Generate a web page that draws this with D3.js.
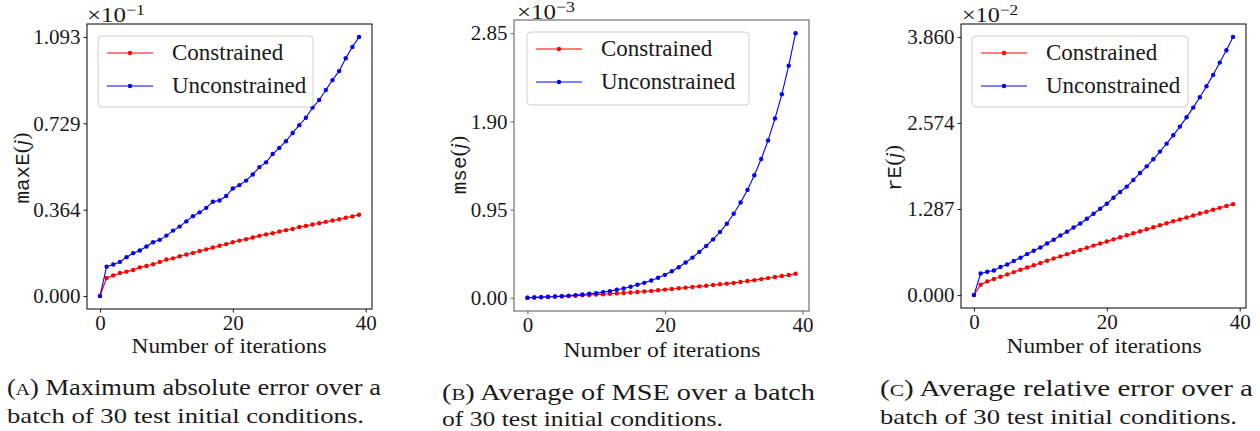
<!DOCTYPE html>
<html><head><meta charset="utf-8">
<script src="https://cdn.jsdelivr.net/npm/d3@7"></script>
<style>
body{margin:0;background:#fff}
svg{display:block}
</style>
</head><body>
<svg id="chart" width="1260" height="431"></svg>
<script>
// ---------- DATA ----------
const iterations = [0,1,2,3,4,5,6,7,8,9,10,11,12,13,14,15,16,17,18,19,20,21,22,23,24,25,26,27,28,29,30,31,32,33,34,35,36,37,38,39];
const seriesNames = ["Constrained", "Unconstrained"];

// Panel A: maxE(j), units of 1e-1
const maxEConstrained = [0,0.076,0.087,0.097,0.103,0.110,0.121,0.127,0.134,0.144,0.154,0.159,0.168,0.175,0.182,0.190,0.197,0.205,0.212,0.219,0.227,0.234,0.240,0.247,0.254,0.260,0.265,0.272,0.278,0.283,0.291,0.296,0.302,0.307,0.313,0.319,0.324,0.330,0.336,0.343];
const maxEUnconstrained = [0,0.124,0.133,0.144,0.164,0.181,0.192,0.209,0.227,0.237,0.255,0.276,0.293,0.315,0.337,0.353,0.372,0.398,0.403,0.422,0.454,0.468,0.487,0.513,0.544,0.564,0.599,0.625,0.653,0.688,0.721,0.752,0.795,0.827,0.869,0.911,0.949,1.003,1.051,1.093];
const maxETicks = [0, 0.3643, 0.7287, 1.093];
const maxETickLabels = ["0.000","0.364","0.729","1.093"];

// Panel B: mse(j), units of 1e-3
const mseConstrained = [0,0.003,0.006,0.009,0.012,0.015,0.018,0.022,0.026,0.030,0.034,0.038,0.043,0.047,0.052,0.057,0.062,0.068,0.074,0.081,0.088,0.095,0.102,0.109,0.116,0.123,0.130,0.138,0.145,0.152,0.160,0.170,0.180,0.190,0.201,0.212,0.223,0.234,0.246,0.258];
const mseUnconstrained = [0,0.004,0.007,0.011,0.014,0.018,0.021,0.029,0.036,0.043,0.050,0.061,0.072,0.086,0.100,0.118,0.140,0.161,0.186,0.215,0.247,0.286,0.329,0.380,0.433,0.494,0.558,0.629,0.708,0.798,0.905,1.026,1.162,1.320,1.495,1.695,1.931,2.192,2.500,2.850];
const mseTicks = [0, 0.95, 1.90, 2.85];
const mseTickLabels = ["0.00","0.95","1.90","2.85"];

// Panel C: rE(j), units of 1e-2
const rEConstrained = [0,0.154,0.205,0.240,0.274,0.309,0.344,0.378,0.412,0.446,0.480,0.513,0.546,0.579,0.612,0.644,0.676,0.708,0.740,0.771,0.802,0.833,0.864,0.895,0.925,0.955,0.985,1.015,1.045,1.074,1.103,1.132,1.161,1.190,1.219,1.247,1.276,1.304,1.332,1.360];
const rEUnconstrained = [0,0.323,0.349,0.368,0.419,0.458,0.509,0.558,0.613,0.663,0.712,0.772,0.827,0.892,0.947,1.011,1.071,1.141,1.216,1.291,1.366,1.456,1.541,1.621,1.721,1.825,1.925,2.030,2.145,2.264,2.389,2.519,2.658,2.803,2.958,3.122,3.292,3.476,3.661,3.860];
const rETicks = [0, 1.287, 2.574, 3.860];
const rETickLabels = ["0.000","1.287","2.574","3.860"];

const xTicks = [0, 20, 40];
const xTickLabels = ["0","20","40"];
const xLabel = "Number of iterations";

const captions = [
  ["A", ") Maximum absolute error over a", "batch of 30 test initial conditions."],
  ["B", ") Average of MSE over a batch", "of 30 test initial conditions."],
  ["C", ") Average relative error over a", "batch of 30 test initial conditions."]
];

// ---------- LAYOUT / STYLE ----------
const SERIF = '"Liberation Serif","Times New Roman",serif';
const MONO = '"Liberation Mono","Courier New",monospace';
const INK = "#1a1a1a";
const colors = ["#ff0000", "#0000ff"];
const panels = [
  {name:"maxE", exp:"−1", ticks:maxETicks, labels:maxETickLabels, data:[maxEConstrained, maxEUnconstrained],
   box:{l:87,r:372,t:24,b:309}, spine:"#000", ylab:{x:23,y:168}, legend:{x:98,y:36,w:215,h:71},
   xlab:{x:229,y:353,w:195}, cap:{x:7,y1:395,y2:423,w1:374,w2:357}, expPos:{x:87,y:22,w:58}},
  {name:"mse", exp:"−3", ticks:mseTicks, labels:mseTickLabels, data:[mseConstrained, mseUnconstrained],
   box:{l:514,r:809,t:20,b:311}, spine:"#555", ylab:{x:460,y:165}, legend:{x:527,y:32,w:222,h:73},
   xlab:{x:662,y:357,w:197}, cap:{x:442,y1:400,y2:426,w1:373,w2:281}, expPos:{x:517,y:19,w:58}},
  {name:"rE", exp:"−2", ticks:rETicks, labels:rETickLabels, data:[rEConstrained, rEUnconstrained],
   box:{l:961,r:1246,t:24,b:308}, spine:"#000", ylab:{x:895,y:168}, legend:{x:972,y:36,w:216,h:71},
   xlab:{x:1104,y:353,w:195}, cap:{x:880,y1:396,y2:424,w1:373,w2:357}, expPos:{x:962,y:22,w:56}}
];

const svg = d3.select("#chart");
svg.append("rect").attr("width",1260).attr("height",431).attr("fill","#fff");

panels.forEach((p, pi) => {
  const g = svg.append("g");
  const maxV = p.ticks[p.ticks.length-1];
  const x = d3.scaleLinear().domain([-1.95, 40.95]).range([p.box.l, p.box.r]);
  const y = d3.scaleLinear().domain([-0.05*maxV, 1.05*maxV]).range([p.box.b, p.box.t]);

  // axes
  const xa = g.append("g").attr("transform", `translate(0,${p.box.b})`)
    .call(d3.axisBottom(x).tickValues(xTicks).tickFormat((d,i)=>xTickLabels[i]).tickSize(3.5).tickPadding(3));
  const ya = g.append("g").attr("transform", `translate(${p.box.l},0)`)
    .call(d3.axisLeft(y).tickValues(p.ticks).tickFormat((d,i)=>p.labels[i]).tickSize(3.5).tickPadding(3));
  [xa, ya].forEach(a => {
    a.attr("font-family", null).attr("font-size", null);
    a.select(".domain").remove();
    a.selectAll(".tick line").attr("stroke", p.spine).attr("stroke-width", 0.9);
    a.selectAll(".tick text").style("font-family", SERIF).style("font-size", "21px").attr("fill", INK);
  });

  // lines & markers
  p.data.forEach((vals, si) => {
    const line = d3.line().x((d,i)=>x(iterations[i])).y(d=>y(d));
    g.append("path").datum(vals).attr("d", line).attr("fill","none")
      .attr("stroke", colors[si]).attr("stroke-width", 1.1);
    g.selectAll(null).data(vals).enter().append("circle")
      .attr("cx",(d,i)=>x(iterations[i])).attr("cy",d=>y(d)).attr("r",2.2).attr("fill",colors[si]);
  });

  // spines
  g.append("rect").attr("x",p.box.l).attr("y",p.box.t).attr("width",p.box.r-p.box.l).attr("height",p.box.b-p.box.t)
    .attr("fill","none").attr("stroke",p.spine).attr("stroke-width",1);

  // legend
  const L = p.legend;
  g.append("rect").attr("x",L.x).attr("y",L.y).attr("width",L.w).attr("height",L.h).attr("rx",4)
    .attr("fill","#fff").attr("fill-opacity",0.8).attr("stroke","#d0d0d0").attr("stroke-width",1);
  seriesNames.forEach((nm, si) => {
    const ly = L.y + 17 + si*33;
    g.append("line").attr("x1",L.x+9).attr("x2",L.x+55).attr("y1",ly).attr("y2",ly)
      .attr("stroke",colors[si]).attr("stroke-width",1.1);
    g.append("circle").attr("cx",L.x+32).attr("cy",ly).attr("r",2.2).attr("fill",colors[si]);
    g.append("text").attr("x",L.x+74).attr("y",ly+7).style("font-family",SERIF).style("font-size","23px")
      .attr("fill",INK).text(nm);
  });

  // exponent label
  const et = g.append("text").attr("x",p.expPos.x).attr("y",p.expPos.y)
    .style("font-family",SERIF).style("font-size","21px").attr("fill",INK)
    .attr("textLength",p.expPos.w).attr("lengthAdjust","spacingAndGlyphs");
  et.append("tspan").text("×10");
  et.append("tspan").attr("dy",-7).style("font-size","15px").text(p.exp);

  // y label
  const yl = g.append("text").attr("transform",`translate(${p.ylab.x},${p.ylab.y}) rotate(-90)`)
    .attr("text-anchor","middle").attr("dominant-baseline","middle")
    .style("font-family",SERIF).style("font-size","22px").attr("fill",INK);
  yl.append("tspan").style("font-family",MONO).style("font-size","21px").text(p.name);
  yl.append("tspan").text("(");
  yl.append("tspan").style("font-style","italic").text("j");
  yl.append("tspan").text(")");

  // x label
  g.append("text").attr("x",p.xlab.x).attr("y",p.xlab.y).attr("text-anchor","middle")
    .style("font-family",SERIF).style("font-size","21px").attr("fill",INK)
    .attr("textLength",p.xlab.w).attr("lengthAdjust","spacingAndGlyphs").text(xLabel);

  // caption
  const c = captions[pi];
  const t1 = g.append("text").attr("x",p.cap.x).attr("y",p.cap.y1)
    .style("font-family",SERIF).style("font-size","23px").attr("fill",INK)
    .attr("textLength",p.cap.w1).attr("lengthAdjust","spacingAndGlyphs");
  t1.append("tspan").text("(");
  t1.append("tspan").style("font-size","17px").text(c[0]);
  t1.append("tspan").text(c[1]);
  g.append("text").attr("x",p.cap.x).attr("y",p.cap.y2)
    .style("font-family",SERIF).style("font-size","22px").attr("fill",INK)
    .attr("textLength",p.cap.w2).attr("lengthAdjust","spacingAndGlyphs").text(c[2]);
});
</script>
</body></html>
